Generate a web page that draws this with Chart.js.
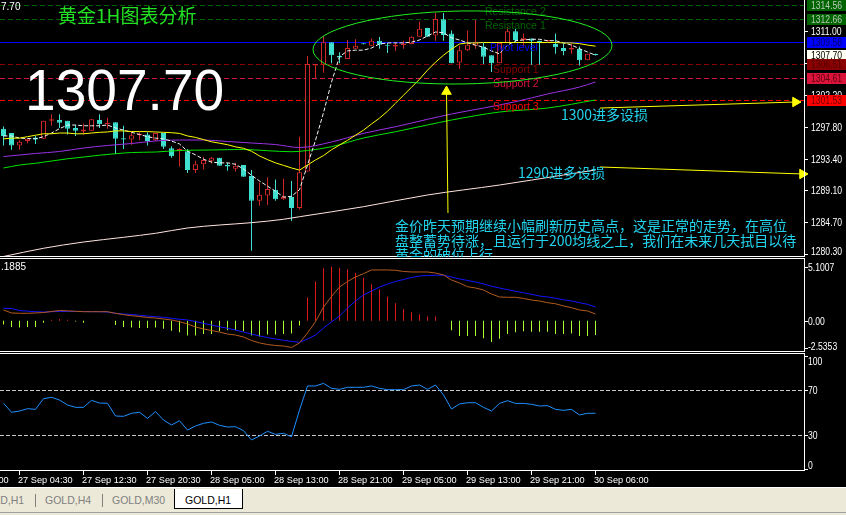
<!DOCTYPE html>
<html>
<head>
<meta charset="utf-8">
<script src="https://cdn.jsdelivr.net/npm/chart.js@4.4.1/dist/chart.umd.min.js"></script>
<style>
html, body { margin: 0; padding: 0; background: #000; }
#wrap { position: relative; width: 846px; height: 515px; overflow: hidden; background: #000; font-family: "Liberation Sans", Arial, sans-serif; }
canvas { position: absolute; left: 0; z-index: 1; }
#cMain { top: 0; }
#cMacd { top: 258px; }
#cRsi { top: 353px; }
.txt { position: absolute; white-space: nowrap; z-index: 2; line-height: 1; }
.cjk { font-family: "Noto Sans CJK SC", sans-serif; }
#tabs { position: absolute; left: 0; top: 487px; width: 846px; height: 28px; background: #ece9d8; z-index: 3; font-size: 10.5px; border-top: 1px solid #fff; }
#tabs .t { position: absolute; top: 7px; color: #808080; line-height: 1; white-space: nowrap; }
#tabs .sep { position: absolute; top: 6px; width: 1px; height: 13px; background: #808080; }
#tabs .on { position: absolute; left: 174px; top: 1px; width: 67px; height: 19px; background: #fff; border: 1px solid #000; border-top: none; }
#tabs .foot { position: absolute; left: 0; top: 24px; width: 846px; height: 1px; background: #a0a0a0; }
</style>
</head>
<body>
<div id="wrap">
  <canvas id="cMain" width="846" height="257"></canvas>
  <canvas id="cMacd" width="846" height="94"></canvas>
  <canvas id="cRsi" width="846" height="134"></canvas>

  <div class="txt" style="left:1px;top:2px;font-size:10px;color:#fff;">7.70</div>
  <div class="txt cjk" style="left:58px;top:5px;font-size:19px;color:#22e022;">黄金1H图表分析</div>
  <div class="txt" style="left:25px;top:61px;font-size:58px;color:#fff;transform:scaleX(0.95);transform-origin:left top;">1307.70</div>
  <div class="txt cjk" style="left:561px;top:107px;font-size:14px;color:#22d4ee;">1300进多设损</div>
  <div class="txt cjk" style="left:518px;top:165px;font-size:14px;color:#22d4ee;">1290进多设损</div>
  <div class="txt cjk" style="left:395px;top:218px;height:39px;overflow:hidden;font-size:14px;line-height:14.5px;color:#22d4ee;">金价昨天预期继续小幅刷新历史高点，这是正常的走势，在高位<br>盘整蓄势待涨，且运行于200均线之上，我们在未来几天拭目以待<br>黄金的破位上行。</div>
  <div class="txt" style="left:1px;top:262px;font-size:10px;color:#fff;">.1885</div>

  <div id="tabs">
    <div class="t" style="left:-22px;">GOLD,H1</div>
    <div class="sep" style="left:35px;"></div>
    <div class="t" style="left:45px;">GOLD,H4</div>
    <div class="sep" style="left:102px;"></div>
    <div class="t" style="left:112px;">GOLD,M30</div>
    <div class="on"></div>
    <div class="t" style="left:185px;color:#000;">GOLD,H1</div>
    <div class="foot"></div>
  </div>
</div>

<script>
// ---- データ（1時間足、古い順。x はバー番号） ----
const BAR_OPEN = [1297.6, 1297.0, 1295.3, 1295.9, 1296.4, 1296.2, 1298.7, 1298.8, 1298.7, 1297.7,
  1297.2, 1297.3, 1298.8, 1298.2, 1298.5, 1296.3, 1296.1, 1296.7, 1296.8, 1296.0,
  1297.0, 1294.9, 1294.5, 1294.5, 1291.9, 1292.7, 1293.2, 1293.6, 1292.6, 1292.1,
  1292.6, 1291.1, 1287.7, 1288.4, 1289.2, 1287.9, 1288.2, 1286.7, 1291.7, 1306.3,
  1306.4, 1309.5, 1307.6, 1307.2, 1308.6, 1309.3, 1309.0, 1309.7, 1309.1, 1308.9,
  1309.1, 1309.25, 1310.25, 1311.45, 1310.4, 1312.65, 1310.7, 1306.7, 1308.4, 1309.0,
  1308.9, 1307.7, 1306.6, 1309.4, 1311.0, 1309.8, 1310.0, 1309.7, 1309.6, 1309.25,
  1308.7, 1308.5, 1308.6, 1307.0, 1307.9];
const BAR_HIGH = [1297.9, 1297.0, 1296.0, 1296.2, 1296.6, 1298.7, 1299.6, 1299.6, 1298.7, 1298.1,
  1298.3, 1298.9, 1299.6, 1299.1, 1298.5, 1298.0, 1297.1, 1297.1, 1297.1, 1297.0,
  1297.0, 1295.2, 1294.9, 1294.8, 1293.2, 1293.7, 1293.7, 1293.6, 1292.9, 1292.9,
  1292.6, 1291.9, 1290.2, 1290.9, 1290.6, 1290.7, 1290.4, 1296.5, 1307.6, 1306.5,
  1310.3, 1309.5, 1308.1, 1309.8, 1309.9, 1309.3, 1310.0, 1310.2, 1309.4, 1309.4,
  1309.7, 1310.3, 1312.3, 1311.5, 1313.55, 1313.5, 1311.1, 1309.0, 1311.1, 1312.55,
  1309.4, 1307.7, 1309.4, 1311.6, 1311.3, 1310.7, 1310.0, 1309.7, 1309.8, 1310.7,
  1309.3, 1309.3, 1308.9, 1307.9, 1307.9];
const BAR_LOW = [1295.3, 1294.7, 1294.7, 1295.6, 1295.5, 1296.2, 1298.0, 1297.7, 1296.8, 1296.6,
  1296.8, 1297.3, 1297.7, 1297.6, 1294.1, 1294.8, 1295.4, 1296.0, 1295.3, 1295.9,
  1294.8, 1293.6, 1292.4, 1291.5, 1291.5, 1292.0, 1292.8, 1292.5, 1291.8, 1291.7,
  1291.0, 1280.8, 1287.0, 1287.1, 1287.7, 1287.8, 1284.9, 1286.5, 1291.7, 1304.5,
  1305.3, 1306.6, 1306.6, 1307.2, 1308.6, 1309.2, 1309.0, 1308.6, 1308.0, 1308.3,
  1308.6, 1309.2, 1310.25, 1310.2, 1309.7, 1309.7, 1306.6, 1305.8, 1308.3, 1308.6,
  1306.5, 1305.4, 1306.6, 1309.4, 1309.5, 1309.0, 1306.4, 1306.4, 1309.6, 1307.9,
  1307.7, 1307.9, 1306.3, 1307.0, 1307.7];
const BAR_CLOSE = [1296.6, 1295.3, 1295.8, 1296.2, 1296.1, 1298.7, 1298.9, 1298.4, 1297.6, 1297.3,
  1297.5, 1298.9, 1298.2, 1298.4, 1296.2, 1296.1, 1296.7, 1296.9, 1295.9, 1297.0,
  1295.1, 1293.8, 1294.8, 1291.9, 1292.7, 1293.3, 1293.6, 1292.5, 1292.4, 1292.5,
  1291.0, 1287.7, 1288.5, 1289.3, 1287.9, 1288.2, 1286.7, 1291.6, 1306.5, 1306.5,
  1309.5, 1307.7, 1307.4, 1308.7, 1309.0, 1309.2, 1309.7, 1309.15, 1309.0, 1309.1,
  1309.3, 1310.25, 1311.35, 1310.25, 1312.7, 1310.5, 1306.6, 1308.4, 1309.15, 1309.45,
  1307.5, 1306.6, 1309.4, 1311.0, 1309.8, 1310.1, 1309.7, 1309.5, 1309.8, 1308.8,
  1308.3, 1308.7, 1307.0, 1307.9, 1307.7];

// 移動平均線
const MA_WHITE = [1296.6, 1296.6, 1296.3, 1296.25, 1296.2, 1296.5, 1297.0, 1297.6, 1298.1, 1298.1,
  1298.0, 1298.0, 1298.0, 1298.1, 1297.7, 1297.4, 1297.1, 1296.8, 1296.5, 1296.3,
  1296.2, 1295.9, 1295.5, 1294.5, 1294.0, 1293.4, 1293.0, 1292.9, 1292.9, 1292.7,
  1292.05, 1291.2, 1290.4, 1289.7, 1289.0, 1288.2, 1288.3, 1289.2, 1292.6, 1296.0,
  1299.8, 1304.0, 1307.5, 1308.3, 1308.4, 1308.4, 1308.7, 1309.25, 1309.4, 1309.4,
  1309.4, 1309.5, 1309.8, 1310.35, 1310.9, 1310.8, 1310.1, 1309.8, 1309.4, 1309.1,
  1308.8, 1308.3, 1307.9, 1309.1, 1309.7, 1309.8, 1309.9, 1309.9, 1309.7, 1309.7,
  1309.4, 1309.1, 1308.6, 1308.15, 1307.7];
const MA_YELLOW = [1296.2, 1296.3, 1296.3, 1296.5, 1296.7, 1296.9, 1296.9, 1297.0, 1297.0, 1296.9,
  1296.9, 1297.0, 1297.1, 1297.15, 1297.3, 1297.3, 1297.2, 1297.2, 1297.2, 1297.15,
  1297.1, 1297.05, 1296.95, 1296.6, 1296.4, 1296.1, 1295.8, 1295.6, 1295.4, 1295.1,
  1294.9, 1294.5, 1293.85, 1293.35, 1292.9, 1292.55, 1292.2, 1291.9, 1292.6, 1293.3,
  1293.9, 1294.7, 1295.35, 1296.0, 1296.7, 1297.4, 1298.25, 1299.05, 1300.0, 1301.1,
  1302.2, 1303.3, 1304.4, 1305.65, 1306.75, 1307.7, 1308.55, 1309.25, 1309.4, 1309.4,
  1309.45, 1309.45, 1309.45, 1309.45, 1309.45, 1309.45, 1309.45, 1309.45, 1309.45, 1309.45,
  1309.4, 1309.4, 1309.3, 1309.1, 1308.95];
const MA_PURPLE_AT = [0, 4, 7, 10, 13, 16, 19, 22, 25, 28, 31, 34, 37, 41, 45, 49, 53, 56, 60, 64, 68, 72, 74];
const MA_PURPLE = [1293.77, 1294.19, 1294.46, 1294.94, 1295.29, 1295.56, 1295.91, 1296.04, 1296.04, 1295.84,
  1295.63, 1295.42, 1295.01, 1295.77, 1296.96, 1297.87, 1298.89, 1299.62, 1300.44, 1301.31,
  1302.37, 1303.33, 1304.02];
const MA_GREEN_AT = [0, 2, 4, 6, 8, 10, 12, 14, 16, 19, 22, 26, 30, 33, 36, 38, 41, 45, 49, 53, 56, 62, 68, 74];
const MA_GREEN = [1292.19, 1292.6, 1292.84, 1293.15, 1293.46, 1293.7, 1293.95, 1294.16, 1294.32, 1294.39,
  1294.6, 1294.67, 1294.74, 1294.57, 1294.43, 1294.6, 1295.12, 1296.32, 1297.18, 1298.11,
  1298.79, 1299.89, 1300.44, 1301.55];
const MA200_AT = [0, 5, 10, 15, 19, 23, 27, 31, 35, 37, 45, 53, 62, 70, 74];
const MA200 = [1280.02, 1281.15, 1282.01, 1282.66, 1283.21, 1283.94, 1284.35, 1284.67, 1285.14, 1285.49,
  1286.87, 1288.48, 1289.85, 1291.23, 1291.92];

// MACD 風サブウィンドウ
const MACD_HIST = [-0.35, -0.6, -0.65, -0.6, -0.6, -0.2, 0.1, 0.15, 0.08, -0.08,
  -0.2, 0, 0, 0, -0.4, -0.6, -0.65, -0.7, -0.7, -0.65,
  -0.75, -0.95, -1.1, -1.4, -1.4, -1.25, -1.25, -1.0, -0.9, -0.9,
  -1.0, -1.4, -1.5, -1.3, -1.3, -1.25, -1.2, -0.45, 2.2, 3.7,
  4.95, 5.1, 5.0, 4.85, 4.5, 4.05, 3.45, 2.95, 2.25, 1.65,
  1.1, 0.8, 0.6, 0.4, 0.4, 0, -0.9, -1.45, -1.45, -1.45,
  -1.65, -2.0, -1.7, -1.25, -1.1, -1.0, -1.05, -1.05, -1.05, -1.25,
  -1.25, -1.2, -1.45, -1.45, -1.35];
const MACD_BLUE = [1.17, 1.15, 0.96, 0.9, 0.85, 0.82, 0.85, 0.87, 0.87, 0.87,
  0.87, 0.85, 0.85, 0.82, 0.7, 0.63, 0.59, 0.51, 0.44, 0.38,
  0.32, 0.23, 0.13, 0.07, -0.08, -0.25, -0.41, -0.57, -0.72, -0.88,
  -1.07, -1.26, -1.44, -1.6, -1.73, -1.85, -1.95, -2.04, -1.73, -1.35,
  -0.69, -0.12, 0.44, 1.2, 1.86, 2.43, 2.8, 3.18, 3.47, 3.7,
  3.89, 4.08, 4.22, 4.27, 4.29, 4.29, 4.13, 3.94, 3.8, 3.65,
  3.47, 3.25, 3.09, 2.93, 2.78, 2.64, 2.49, 2.33, 2.24, 2.12,
  1.98, 1.86, 1.7, 1.55, 1.29];
const MACD_BROWN = [1.01, 0.73, 0.7, 0.7, 0.73, 0.77, 0.87, 0.96, 0.93, 0.89,
  0.85, 0.85, 0.85, 0.85, 0.7, 0.57, 0.47, 0.4, 0.3, 0.25,
  0.16, 0.07, -0.09, -0.31, -0.59, -0.78, -0.93, -1.07, -1.26, -1.35,
  -1.54, -1.87, -2.1, -2.25, -2.34, -2.39, -2.53, -2.1, -1.16, -0.09,
  1.29, 2.29, 3.18, 3.7, 4.13, 4.44, 4.79, 4.79, 4.79, 4.76,
  4.65, 4.6, 4.6, 4.6, 4.5, 4.32, 3.84, 3.56, 3.21, 3.09,
  2.9, 2.52, 2.24, 2.21, 2.21, 2.1, 1.95, 1.86, 1.7, 1.6,
  1.39, 1.23, 1.01, 0.92, 0.63];

// RSI
const RSI = [58.2, 50.2, 51.3, 53.4, 52.8, 62.3, 63.5, 61.1, 56.7, 54.6,
  54.6, 60.8, 58.4, 58.2, 46.9, 46.6, 49.3, 50.2, 44.8, 50.8,
  43.3, 38.9, 42.7, 34.4, 38.0, 40.4, 41.6, 38.6, 37.1, 37.4,
  33.9, 25.6, 29.1, 33.3, 30.6, 31.5, 28.5, 52.2, 73.6, 73.6,
  75.9, 71.5, 70.6, 72.4, 72.4, 72.4, 73.6, 71.5, 70.3, 70.3,
  70.3, 73.6, 74.4, 70.6, 74.4, 65.6, 53.1, 57.6, 58.7, 58.7,
  54.6, 51.3, 58.1, 60.5, 58.1, 58.1, 57.3, 55.8, 56.1, 52.8,
  51.9, 52.8, 47.8, 49.3, 49.3];

// 軸・水平線・注記
const TIME_TICK_AT = [-6, 2, 10, 18, 26, 34, 42, 50, 58, 66, 74];
const TIME_TICK_TEXT = ['26 Sep 20:00', '27 Sep 04:30', '27 Sep 12:30', '27 Sep 20:30', '28 Sep 05:00',
  '28 Sep 13:00', '28 Sep 21:00', '29 Sep 05:00', '29 Sep 13:00', '29 Sep 21:00', '30 Sep 06:00'];
const PRICE_TICKS = [1311.00, 1306.60, 1302.20, 1297.80, 1293.40, 1289.10, 1284.70, 1280.30];
const LEVEL_VALUES = [1314.56, 1312.66, 1309.58, 1306.51, 1304.61, 1301.53];
const LEVEL_NAMES = ['Resistance 2', 'Resistance 1', 'Pivot level', 'Support 1', 'Support 2', 'Support 3'];
const LAST_PRICE = 1307.70;
const MACD_TICKS = [5.1007, 0, -2.5353];
const MACD_TICK_TEXT = ['5.1007', '0.00', '-2.5353'];
const RSI_TICKS = [100, 70, 30, 0];
const RSI_LEVELS = [70, 30];
const ARROW_1300_X = [74.56, 99.0];
const ARROW_1300_Y = [1300.44, 1301.27];
const ARROW_1290_X = [74.56, 99.875];
const ARROW_1290_Y = [1292.33, 1291.37];
const ARROW_UP_X = [55.56, 55.375];
const ARROW_UP_Y = [1286.0, 1302.71];
const ELLIPSE_CENTER = [57.375, 1308.77];
const ELLIPSE_RADIUS = [18.69, 5.02];

// ---- 見た目の設定 ----
const BULL = '#d02828';
const BEAR = '#40e0d0';
const LEVEL_COLORS = ['#006400', '#006400', '#0000ff', '#8b0000', '#dc143c', '#ff0000'];
const LEVEL_BOX_TEXT = ['#b8c8b8', '#b8c8b8', '#000070', '#500000', '#600010', '#700000'];
const AXIS_FONT = "10px 'Liberation Sans', Arial, sans-serif";
const AXIS_SQUEEZE = 0.86;   // MT4 の細い数字に寄せる
const X_MIN = -3.5 / 8;
const X_MAX = X_MIN + 805 / 8;

const barNo = BAR_OPEN.map((_, i) => i);
const isBull = i => BAR_CLOSE[i] > BAR_OPEN[i];
const toPoints = (vals, at) => vals.map((v, k) => ({ x: at ? at[k] : k, y: v }));

// autoPadding を切らないと矢印の点の分だけプロット領域が縮む
const baseOptions = (yMin, yMax, padBottom) => ({
    responsive: false,
    animation: false,
    events: [],
    layout: { autoPadding: false, padding: { left: 0, right: 41, top: 0, bottom: padBottom } },
    plugins: { legend: { display: false }, tooltip: { enabled: false } },
    scales: {
        x: { type: 'linear', min: X_MIN, max: X_MAX, display: false, offset: false },
        y: { type: 'linear', min: yMin, max: yMax, display: false }
    }
});

function axisText(ctx, text, x, y) {
    ctx.save();
    ctx.translate(x, y);
    ctx.scale(AXIS_SQUEEZE, 1);
    ctx.fillText(text, 0, 0);
    ctx.restore();
}

// 右側の価格目盛り（ラベルは枠内に収める）
function drawRightLabels(chart, values, texts, textX) {
    const { ctx, chartArea: a, scales: { y } } = chart;
    ctx.save();
    ctx.font = AXIS_FONT;
    ctx.fillStyle = '#fff';
    values.forEach((v, k) => {
        const py = Math.round(y.getPixelForValue(v));
        ctx.fillRect(a.right, py, 3, 1);
        const ly = Math.min(Math.max(py, a.top + 8), a.bottom - 6);
        axisText(ctx, texts[k], textX, ly + 4);
    });
    ctx.restore();
}

function drawFrame(chart, top, bottom) {
    const { ctx, chartArea: a } = chart;
    ctx.save();
    ctx.fillStyle = '#fff';
    ctx.fillRect(a.right - 1, 0, 1, a.bottom);
    if (top) ctx.fillRect(0, a.top, a.right, 1);
    if (bottom) ctx.fillRect(0, a.bottom - 1, a.right, 1);
    ctx.restore();
}

// ---- メインチャート ----
const mainDeco = {
    id: 'mainDeco',
    beforeDatasetsDraw(chart) {
        const { ctx, chartArea: a, scales: { y } } = chart;
        ctx.save();
        ctx.lineWidth = 1;
        LEVEL_VALUES.forEach((v, k) => {
            const py = Math.round(y.getPixelForValue(v)) + 0.5;
            ctx.strokeStyle = LEVEL_COLORS[k];
            ctx.setLineDash(k === 2 ? [] : [5, 3]);
            ctx.beginPath();
            ctx.moveTo(a.left, py);
            ctx.lineTo(a.right, py);
            ctx.stroke();
        });
        ctx.restore();
    },
    afterDatasetsDraw(chart) {
        const { ctx, scales: { x, y } } = chart;
        ctx.save();
        // 水平線の名前
        ctx.font = "10.5px 'Liberation Sans', Arial, sans-serif";
        ctx.textBaseline = 'middle';
        LEVEL_VALUES.forEach((v, k) => {
            ctx.fillStyle = LEVEL_COLORS[k];
            const lx = k < 2 ? 60.19 : (k === 2 ? 60.81 : 61.19);
            ctx.fillText(LEVEL_NAMES[k], x.getPixelForValue(lx), y.getPixelForValue(v) + 6.5);
        });
        // 楕円
        const cx = x.getPixelForValue(ELLIPSE_CENTER[0]);
        const cy = y.getPixelForValue(ELLIPSE_CENTER[1]);
        const rx = x.getPixelForValue(ELLIPSE_CENTER[0] + ELLIPSE_RADIUS[0]) - cx;
        const ry = cy - y.getPixelForValue(ELLIPSE_CENTER[1] + ELLIPSE_RADIUS[1]);
        ctx.strokeStyle = '#22ee22';
        ctx.lineWidth = 1;
        ctx.beginPath();
        ctx.ellipse(cx, cy, rx, ry, -0.015, 0, Math.PI * 2);
        ctx.stroke();
        ctx.restore();
    },
    afterDraw(chart) {
        const { ctx, chartArea: a, scales: { y } } = chart;
        drawFrame(chart, false, true);
        drawRightLabels(chart, PRICE_TICKS, PRICE_TICKS.map(v => v.toFixed(2)), 811);
        // 価格ボックス
        const boxes = LEVEL_VALUES.map((v, k) => ({ v, bg: LEVEL_COLORS[k], fg: LEVEL_BOX_TEXT[k] }));
        boxes.splice(3, 0, { v: LAST_PRICE, bg: '#fffff4', fg: '#000' });
        ctx.save();
        ctx.font = AXIS_FONT;
        boxes.forEach(b => {
            const py = Math.round(y.getPixelForValue(b.v));
            ctx.fillStyle = b.bg;
            ctx.fillRect(a.right + 2, py - 5, 846 - a.right - 2, 11);
            ctx.fillStyle = b.fg;
            axisText(ctx, b.v.toFixed(2), 811, py + 4);
        });
        ctx.restore();
    }
};

const arrowSet = (xv, yv, rot) => ({
    type: 'line',
    data: toPoints(yv, xv),
    borderColor: '#ffff00',
    borderWidth: 1,
    pointRadius: [0, 5.5],
    pointStyle: 'triangle',
    pointRotation: rot,
    pointBackgroundColor: '#ffff00',
    pointBorderColor: '#ffff00',
    clip: false,
    order: 0
});

new Chart(document.getElementById('cMain'), {
    type: 'bar',
    data: {
        datasets: [
            { type: 'line', data: toPoints(MA200, MA200_AT), borderColor: '#ffe4e1', borderWidth: 1, pointRadius: 0, cubicInterpolationMode: 'monotone', order: 3 },
            { type: 'line', data: toPoints(MA_GREEN, MA_GREEN_AT), borderColor: '#00e600', borderWidth: 1, pointRadius: 0, cubicInterpolationMode: 'monotone', order: 3 },
            { type: 'line', data: toPoints(MA_PURPLE, MA_PURPLE_AT), borderColor: '#9a32e6', borderWidth: 1, pointRadius: 0, cubicInterpolationMode: 'monotone', order: 3 },
            { type: 'line', data: toPoints(MA_YELLOW), borderColor: '#ffff00', borderWidth: 1, pointRadius: 0, order: 2 },
            { type: 'line', data: toPoints(MA_WHITE), borderColor: '#f4f4f4', borderWidth: 1, borderDash: [4, 2], pointRadius: 0, order: 2 },
            arrowSet(ARROW_1300_X, ARROW_1300_Y, 90),
            arrowSet(ARROW_1290_X, ARROW_1290_Y, 90),
            arrowSet(ARROW_UP_X, ARROW_UP_Y, 0),
            {
                data: barNo.map(i => ({ x: i, y: [BAR_LOW[i], BAR_HIGH[i]] })),
                backgroundColor: c => isBull(c.dataIndex) ? BULL : BEAR,
                barThickness: 1, grouped: false, inflateAmount: 0, minBarLength: 1, order: 10
            },
            {
                data: barNo.map(i => ({ x: i, y: [BAR_OPEN[i], BAR_CLOSE[i]] })),
                backgroundColor: c => isBull(c.dataIndex) ? '#000' : BEAR,
                borderColor: c => isBull(c.dataIndex) ? BULL : BEAR,
                borderWidth: 1, borderSkipped: false,
                barThickness: 5, grouped: false, inflateAmount: 0, minBarLength: 1, order: 9
            }
        ]
    },
    options: baseOptions(1279.95, 1315.3, 0),
    plugins: [mainDeco]
});

// ---- MACD ----
new Chart(document.getElementById('cMacd'), {
    type: 'bar',
    data: {
        datasets: [
            { type: 'line', data: toPoints(MACD_BROWN), borderColor: '#b45a1e', borderWidth: 1, pointRadius: 0, order: 1 },
            { type: 'line', data: toPoints(MACD_BLUE), borderColor: '#1414ff', borderWidth: 1, pointRadius: 0, order: 1 },
            {
                data: toPoints(MACD_HIST),
                backgroundColor: c => MACD_HIST[c.dataIndex] >= 0 ? '#e01818' : '#adff2f',
                barThickness: 1, grouped: false, inflateAmount: 0, order: 5
            }
        ]
    },
    options: baseOptions(-2.956, 5.92, 0),
    plugins: [{
        id: 'macdDeco',
        afterDraw(chart) {
            drawFrame(chart, true, true);
            drawRightLabels(chart, MACD_TICKS, MACD_TICK_TEXT, 808);
        }
    }]
});

// ---- RSI ＋ 時間軸 ----
new Chart(document.getElementById('cRsi'), {
    type: 'line',
    data: {
        datasets: [
            { data: toPoints(RSI), borderColor: '#1e90ff', borderWidth: 1, pointRadius: 0 }
        ]
    },
    options: baseOptions(-2.0, 102.9, 16),
    plugins: [{
        id: 'rsiDeco',
        beforeDatasetsDraw(chart) {
            const { ctx, chartArea: a, scales: { y } } = chart;
            ctx.save();
            ctx.strokeStyle = '#c8c8c8';
            ctx.setLineDash([4, 2]);
            RSI_LEVELS.forEach(v => {
                const py = Math.round(y.getPixelForValue(v)) + 0.5;
                ctx.beginPath();
                ctx.moveTo(a.left, py);
                ctx.lineTo(a.right, py);
                ctx.stroke();
            });
            ctx.restore();
        },
        afterDraw(chart) {
            const { ctx, chartArea: a, scales: { x } } = chart;
            drawFrame(chart, true, true);
            drawRightLabels(chart, RSI_TICKS, RSI_TICKS.map(String), 808);
            ctx.save();
            ctx.fillStyle = '#fff';
            ctx.font = "9.2px 'Liberation Sans', Arial, sans-serif";
            TIME_TICK_AT.forEach((t, k) => {
                const px = Math.floor(x.getPixelForValue(t));
                ctx.fillRect(px, a.bottom, 1, 4);
                ctx.fillText(TIME_TICK_TEXT[k], px - 1, a.bottom + 12);
            });
            ctx.restore();
        }
    }]
});
</script>
</body>
</html>
